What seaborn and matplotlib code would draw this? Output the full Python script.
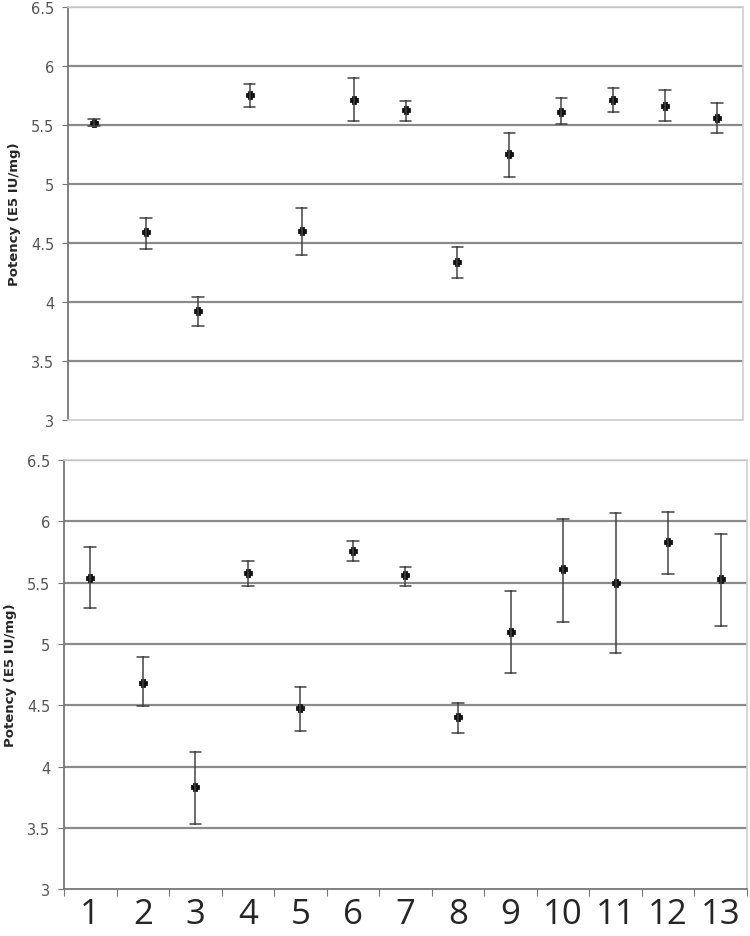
import seaborn as sns
import pandas as pd
import matplotlib.pyplot as plt

lots = [str(i) for i in range(1, 14)]

# top panel: mean, lower, upper
top_mean = [5.52, 4.59, 3.92, 5.75, 4.60, 5.71, 5.63, 4.34, 5.25, 5.61, 5.71, 5.66, 5.56]
top_low = [5.49, 4.45, 3.80, 5.65, 4.40, 5.53, 5.53, 4.20, 5.06, 5.51, 5.61, 5.53, 5.43]
top_high = [5.55, 4.71, 4.04, 5.85, 4.80, 5.90, 5.70, 4.47, 5.43, 5.73, 5.81, 5.80, 5.69]

# bottom panel
bot_mean = [5.54, 4.68, 3.83, 5.58, 4.48, 5.76, 5.56, 4.40, 5.10, 5.61, 5.50, 5.83, 5.53]
bot_low = [5.29, 4.49, 3.53, 5.47, 4.29, 5.68, 5.47, 4.27, 4.76, 5.18, 4.93, 5.57, 5.15]
bot_high = [5.79, 4.89, 4.12, 5.68, 4.65, 5.84, 5.63, 4.52, 5.43, 6.02, 6.07, 6.08, 5.90]

yticks = [3, 3.5, 4, 4.5, 5, 5.5, 6, 6.5]
ylabels = ['3', '3.5', '4', '4.5', '5', '5.5', '6', '6.5']


def long_table(mean, low, high):
    rows = []
    for lot, m, lo, hi in zip(lots, mean, low, high):
        rows += [(lot, lo), (lot, m), (lot, hi)]
    return pd.DataFrame(rows, columns=['Lot', 'Potency'])


sns.set_style('white')
plt.rcParams['font.family'] = ['DejaVu Sans']

fig = plt.figure(figsize=(7.5, 9.37), dpi=100)
ax1 = fig.add_axes([0.0907, 0.5507, 0.9, 0.4408])
ax2 = fig.add_axes([0.0853, 0.050, 0.9107, 0.458])

for ax, (m, lo, hi) in zip([ax1, ax2], [(top_mean, top_low, top_high),
                                        (bot_mean, bot_low, bot_high)]):
    tab = long_table(m, lo, hi)
    sns.pointplot(data=tab, x='Lot', y='Potency', order=lots,
                  estimator='median', errorbar=('pi', 100),
                  linestyle='none', marker='P', markersize=5,
                  color='#111111', err_kws={'color': '#444444', 'linewidth': 1.1},
                  capsize=0.22, ax=ax)
    ax.set_xlim(-0.5, 12.5)
    ax.set_ylim(3, 6.5)
    ax.set_yticks(yticks)
    ax.set_yticklabels(ylabels, fontsize=10.5, color='#555555')
    for y in yticks[1:]:
        ax.axhline(y, color='#8a8a8a', linewidth=1.6, zorder=0)
    ax.set_ylabel('Potency (E5 IU/mg)', fontsize=9.5, fontweight='bold', labelpad=7)
    ax.set_xlabel('')
    for side in ['top', 'right']:
        ax.spines[side].set_color('#d0d0d0')
        ax.spines[side].set_linewidth(1.2)
    for side in ['left', 'bottom']:
        ax.spines[side].set_color('#777777')
        ax.spines[side].set_linewidth(1.3)
    ax.tick_params(axis='y', left=True, length=4, color='#777777', pad=6)

ax1.spines['bottom'].set_color('#d0d0d0')
ax1.tick_params(axis='x', bottom=False, labelbottom=False)

ax2.set_xticks([i + 0.5 for i in range(-1, 13)], minor=False)
ax2.set_xticklabels([])
ax2.set_xticks(range(13), minor=True)
ax2.set_xticklabels(lots, minor=True, fontsize=25, fontfamily='Open Sans')
ax2.tick_params(axis='x', which='major', bottom=True, length=5, color='#777777')
ax2.tick_params(axis='x', which='minor', bottom=False, pad=4)

fig.savefig('out.png', dpi=100)
